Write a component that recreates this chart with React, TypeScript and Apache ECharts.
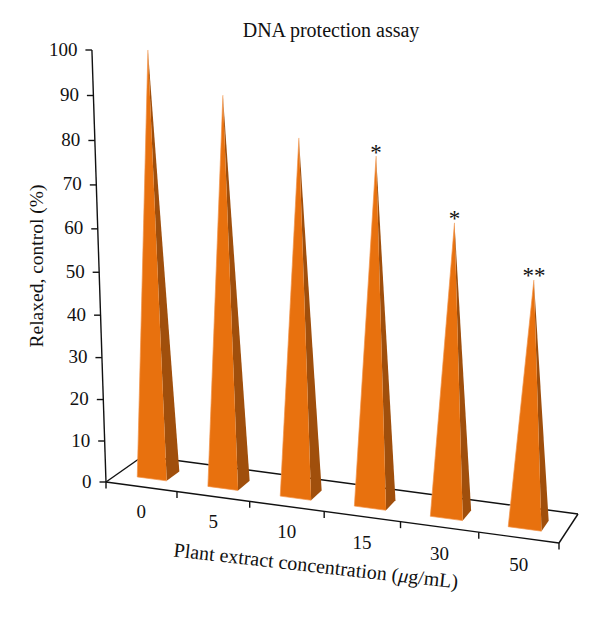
import React, { useEffect, useRef } from "react";
import * as echarts from "echarts";

const categories = ["0", "5", "10", "15", "30", "50"];
const relaxedValues = [100, 91, 82.7, 80, 66.7, 55.7];
const significance = ["", "", "", "*", "*", "**"];
const yTicks = [0, 10, 20, 30, 40, 50, 60, 70, 80, 90, 100];

const FONT = '"Liberation Serif", serif';
const FRONT_COLOR = "#E8710E";
const SIDE_COLOR = "#A04F0C";
const FRONT_EDGE = "#F2934A";

// Oblique projection of the plot box
const A = [106, 482];
const B = [559, 543];
const C = [578, 514];
const D = [143, 456];
const H0 = 432;

const stretch = (u: number) => u / (1 + 0.0762 * (1 - u));
const rise = (t: number) => t / (1 + 0.0597 * (1 - t));
const mix = (a: number, b: number, k: number) => a + (b - a) * k;

function project(u: number, d: number, t: number): number[] {
  const p = stretch(u);
  const fx = mix(A[0], B[0], p);
  const fy = mix(A[1], B[1], p);
  const bx = mix(D[0], C[0], p);
  const by = mix(D[1], C[1], p);
  const x = mix(fx, bx, d);
  const y = mix(fy, by, d);
  const r = rise(t);
  const scale = H0 * (1 + 0.07 * u) * (1 - 0.05 * d);
  return [x + (x - 362) * 0.055 * r, y - scale * r];
}

function scales(api: any) {
  const catW = api.size([1, 0])[0];
  const left = api.coord([0, 0])[0] - catW / 2;
  const y0 = api.coord([0, 0])[1];
  const y100 = api.coord([0, 100])[1];
  return {
    catW,
    toU: (cat: number) => (api.coord([cat, 0])[0] - left) / (catW * categories.length),
    toT: (v: number) => (y0 - api.coord([0, v])[1]) / (y0 - y100),
    halfU: 1 / (2 * categories.length),
  };
}

const lineEl = (a: number[], b: number[], width = 1.4) => ({
  type: "line",
  shape: { x1: a[0], y1: a[1], x2: b[0], y2: b[1] },
  style: { stroke: "#111", lineWidth: width },
  silent: true,
});

const textEl = (text: string, x: number, y: number, align: string, size = 19) => ({
  type: "text",
  x,
  y,
  silent: true,
  style: { text, align, verticalAlign: "middle", fontFamily: FONT, fontSize: size, fill: "#111" },
});

function renderFrame(_: any, api: any) {
  const { toU, toT, halfU } = scales(api);
  const children: any[] = [];
  const a = project(0, 0, 0);
  const b = project(1, 0, 0);
  const c = project(1, 1, 0);
  const d = project(0, 1, 0);
  children.push(lineEl(a, b), lineEl(b, c), lineEl(c, d), lineEl(d, a));
  children.push(lineEl(a, project(0, 0, 1)));
  yTicks.forEach((tick) => {
    const p = project(0, 0, toT(tick));
    children.push(lineEl(p, [p[0] - 6.5, p[1]]));
    children.push(textEl(String(tick), p[0] - 14.5, p[1] - 1, "right"));
  });
  children.push(lineEl(a, [a[0], a[1] + 6.5]));
  categories.forEach((name, i) => {
    const u = toU(i);
    const end = project(u + halfU, 0, 0);
    children.push(lineEl(end, [end[0], end[1] + 6.5]));
    const mid = project(u, 0, 0);
    children.push(textEl(name, mid[0], mid[1] + 24 + 3 * u, "center"));
  });
  return { type: "group", children };
}

function renderPyramid(_: any, api: any) {
  const { toU, toT, halfU } = scales(api);
  const cat = api.value(0);
  const val = api.value(1);
  const u = toU(cat);
  const w = halfU * 0.42;
  const t = toT(val);
  const apex = project(u, 0.5, t);
  const fl = project(u - w, 0.3, 0);
  const fr = project(u + w, 0.3, 0);
  const br = project(u + w, 0.66, 0);
  const children: any[] = [
    { type: "polygon", shape: { points: [apex, fr, br] }, style: { fill: SIDE_COLOR }, silent: true },
    { type: "polygon", shape: { points: [apex, fl, fr] }, style: { fill: FRONT_COLOR }, silent: true },
    {
      type: "polyline",
      shape: { points: [apex, fl, fr] },
      style: { fill: "none", stroke: FRONT_EDGE, lineWidth: 0.7, lineJoin: "bevel" },
      silent: true,
    },
  ];
  const mark = significance[cat];
  if (mark) children.push(textEl(mark, apex[0], apex[1] - 4, "center", 23));
  return { type: "group", children };
}

export default function App() {
  const ref = useRef<HTMLDivElement>(null);
  useEffect(() => {
    document.body.style.margin = "0";
    const chart = echarts.init(ref.current!, undefined, { renderer: "svg" });
    chart.setOption({
      animation: false,
      backgroundColor: "#fff",
      title: {
        text: "DNA protection assay",
        left: 326,
        top: 15,
        textAlign: "center",
        textStyle: { fontFamily: FONT, fontSize: 20, fontWeight: "normal", color: "#111" },
      },
      grid: { left: 106, right: 41, top: 50, bottom: 135 },
      xAxis: { type: "category", data: categories, show: false },
      yAxis: { type: "value", min: 0, max: 100, interval: 10, show: false },
      graphic: [
        {
          type: "text",
          x: 36,
          y: 266,
          rotation: Math.PI / 2,
          style: {
            text: "Relaxed, control (%)",
            align: "center",
            verticalAlign: "middle",
            fontFamily: FONT,
            fontSize: 19.5,
            fill: "#111",
          },
        },
        {
          type: "text",
          x: 316,
          y: 565.5,
          rotation: -0.112,
          style: {
            text: "{a|Plant extract concentration (}{b|μ}{a|g/mL)}",
            align: "center",
            verticalAlign: "middle",
            rich: {
              a: { fontFamily: FONT, fontSize: 20, fill: "#111" },
              b: { fontFamily: FONT, fontSize: 20, fontStyle: "italic", fill: "#111" },
            },
          },
        },
      ],
      series: [
        {
          type: "custom",
          coordinateSystem: "cartesian2d",
          renderItem: renderFrame,
          data: [[0, 0]],
          encode: { x: 0, y: 1 },
          silent: true,
          z: 1,
        },
        {
          type: "custom",
          coordinateSystem: "cartesian2d",
          renderItem: renderPyramid,
          data: relaxedValues.map((v, i) => [i, v]),
          encode: { x: 0, y: 1 },
          silent: true,
          z: 2,
        },
      ],
    });
    return () => chart.dispose();
  }, []);
  return <div ref={ref} style={{ width: 600, height: 617, position: "absolute", left: 0, top: 0 }} />;
}
